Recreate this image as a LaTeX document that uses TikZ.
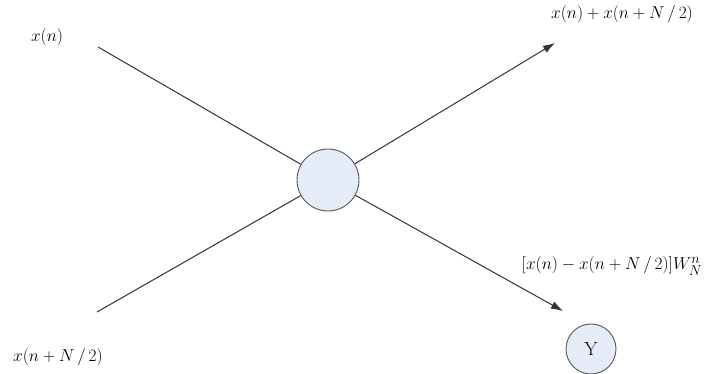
\documentclass[tikz,border=0pt]{standalone}
\usetikzlibrary{arrows.meta}
\definecolor{nodefill}{HTML}{E6ECF7}
\definecolor{nodeline}{HTML}{555555}
\definecolor{wire}{HTML}{333333}
\newcommand{\halfsl}{\mkern3mu/\mkern3mu}
\begin{document}
\begin{tikzpicture}[x=1pt,y=-1pt,
  wirestyle/.style={draw=wire,line width=1pt},
  arrowstyle/.style={wirestyle,-{Latex[length=12pt,width=8pt]}},
  bfly/.style={circle,draw=nodeline,fill=nodefill,line width=0.9pt,minimum size=62pt,inner sep=0pt},
  small/.style={circle,draw=nodeline,fill=nodefill,line width=0.9pt,minimum size=50pt,inner sep=0pt},
  lbl/.style={inner sep=0pt,font=\fontsize{19}{22}\selectfont}]
\useasboundingbox (0,0) rectangle (713,374);
\node[bfly] (c) at (328,180) {};
\node[small,font=\fontsize{19}{22}\selectfont] (y) at (591,349) {Y};
\coordinate (a) at (98,47);
\coordinate (b) at (97,312);
\coordinate (t1) at (555,43);
\coordinate (t2) at (563,311);
\node[lbl] (la) at (47,37) {$x(n)$};
\node[lbl] (lb) at (58,357) {$x(n+N\halfsl 2)$};
\node[lbl] (lt1) at (622,14) {$x(n)+x(n+N\halfsl 2)$};
\node[lbl] (lt2) at (612,266) {$[x(n)-x(n+N\halfsl 2)]W_N^n$};
\draw[wirestyle] (a) -- (c);
\draw[wirestyle] (b) -- (c);
\draw[arrowstyle] (c) -- (t1);
\draw[arrowstyle] (c) -- (t2);
\end{tikzpicture}
\end{document}
